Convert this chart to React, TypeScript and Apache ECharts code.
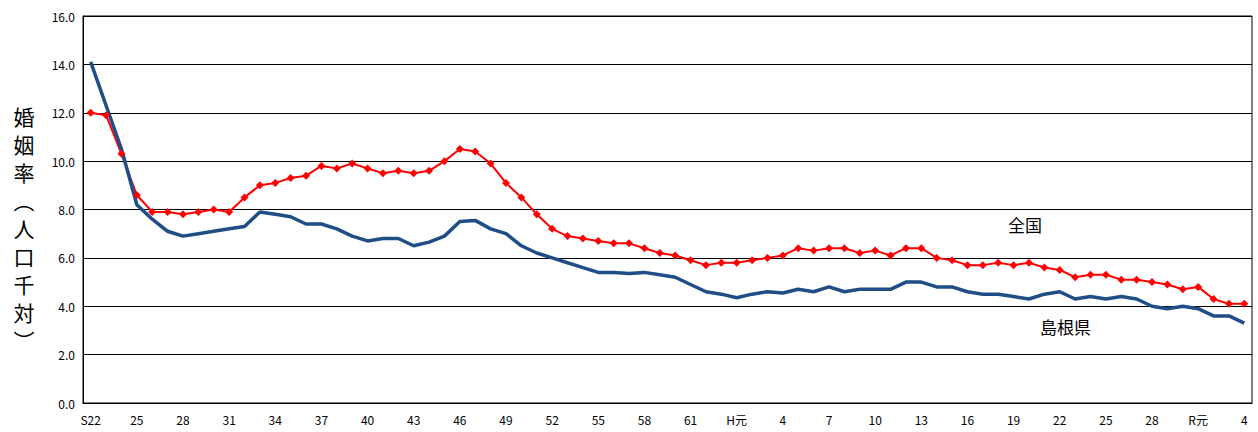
import React, { useEffect, useRef } from "react";
import * as echarts from "echarts";

const years: string[] = [
  "S22", "23", "24", "25", "26", "27", "28", "29", "30", "31", "32", "33", "34", "35", "36", "37", "38", "39", "40", "41", "42",
  "43", "44", "45", "46", "47", "48", "49", "50", "51", "52", "53", "54", "55", "56", "57", "58", "59", "60", "61", "62", "63",
  "H元", "2", "3", "4", "5", "6", "7", "8", "9", "10", "11", "12", "13", "14", "15", "16", "17", "18", "19", "20",
  "21", "22", "23", "24", "25", "26", "27", "28", "29", "30",
  "R元", "2", "3", "4",
];

const national: number[] = [
  12.0, 11.9, 10.3, 8.6, 7.9, 7.9, 7.8, 7.9, 8.0, 7.9, 8.5, 9.0, 9.1, 9.3, 9.4, 9.8, 9.7, 9.9, 9.7, 9.5, 9.6,
  9.5, 9.6, 10.0, 10.5, 10.4, 9.9, 9.1, 8.5, 7.8, 7.2, 6.9, 6.8, 6.7, 6.6, 6.6, 6.4, 6.2, 6.1, 5.9, 5.7, 5.8,
  5.8, 5.9, 6.0, 6.1, 6.4, 6.3, 6.4, 6.4, 6.2, 6.3, 6.1, 6.4, 6.4, 6.0, 5.9, 5.7, 5.7, 5.8, 5.7, 5.8,
  5.6, 5.5, 5.2, 5.3, 5.3, 5.1, 5.1, 5.0, 4.9, 4.7,
  4.8, 4.3, 4.1, 4.1,
];

const shimane: number[] = [
  14.1, 12.3, 10.5, 8.2, 7.6, 7.1, 6.9, 7.0, 7.1, 7.2, 7.3, 7.9, 7.8, 7.7, 7.4, 7.4, 7.2, 6.9, 6.7, 6.8, 6.8,
  6.5, 6.65, 6.9, 7.5, 7.55, 7.2, 7.0, 6.5, 6.2, 6.0, 5.8, 5.6, 5.4, 5.4, 5.35, 5.4, 5.3, 5.2, 4.9, 4.6, 4.5,
  4.35, 4.5, 4.6, 4.55, 4.7, 4.6, 4.8, 4.6, 4.7, 4.7, 4.7, 5.0, 5.0, 4.8, 4.8, 4.6, 4.5, 4.5, 4.4, 4.3,
  4.5, 4.6, 4.3, 4.4, 4.3, 4.4, 4.3, 4.0, 3.9, 4.0,
  3.9, 3.6, 3.6, 3.3,
];

const yName = "婚姻率︵人口千対︶";

const App = () => {
  const chartRef = useRef<HTMLDivElement>(null);

  useEffect(() => {
    if (!chartRef.current) return;
    const chart = echarts.init(chartRef.current, null, { renderer: "svg" });
    const font = "'Noto Sans CJK JP', 'Liberation Sans', sans-serif";
    const nameChars = yName.split("").map((ch, i) => ({
      type: "text",
      x: 24,
      y: 116 + i * 28,
      style: { text: ch, font: `21px ${font}`, fill: "#000", align: "center", verticalAlign: "middle" },
    }));
    chart.setOption({
      animation: false,
      textStyle: { fontFamily: font },
      grid: { left: 83, right: 6, top: 16, bottom: 29, show: true, borderColor: "#000", borderWidth: 1 },
      xAxis: {
        type: "category",
        data: years,
        boundaryGap: true,
        axisLine: { lineStyle: { color: "#000" } },
        axisTick: { show: false },
        axisLabel: { interval: 2, color: "#000", fontSize: 12, margin: 10 },
      },
      yAxis: {
        type: "value",
        min: 0,
        max: 16,
        interval: 2,
        axisLine: { show: true, lineStyle: { color: "#000" } },
        axisTick: { show: false },
        axisLabel: { formatter: (v: number) => v.toFixed(1), color: "#000", fontSize: 12 },
        splitLine: { lineStyle: { color: "#000", width: 1 } },
      },
      series: [
        {
          name: "全国",
          type: "line",
          data: national,
          symbol: "diamond",
          symbolSize: 8,
          itemStyle: { color: "#ff0000" },
          lineStyle: { color: "#ff0000", width: 2 },
        },
        {
          name: "島根県",
          type: "line",
          data: shimane,
          showSymbol: false,
          lineStyle: { color: "#1f4e86", width: 3.5 },
        },
      ],
      graphic: [
        ...nameChars,
        { type: "text", left: 1008, top: 216, style: { text: "全国", font: `17px ${font}`, fill: "#000" } },
        { type: "text", left: 1040, top: 318, style: { text: "島根県", font: `17px ${font}`, fill: "#000" } },
      ],
    });
    return () => chart.dispose();
  }, []);

  return <div ref={chartRef} style={{ position: "absolute", left: 0, top: 0, width: 1258, height: 432 }} />;
};

export default App;
